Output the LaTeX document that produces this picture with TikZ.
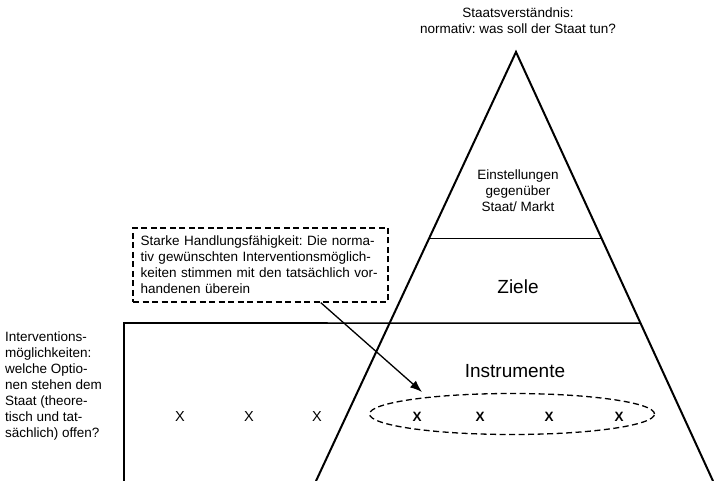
\documentclass[tikz,border=0pt]{standalone}
\usepackage{fontspec}
\setmainfont{Liberation Sans}
\usetikzlibrary{shapes.geometric,arrows.meta,calc}
\newcommand{\klein}{\fontsize{13.5}{16}\selectfont\frenchspacing}
\newcommand{\gross}{\fontsize{19}{22}\selectfont}
\tikzset{
    text style klein/.style={align=center,font=\klein,inner sep=0pt},
    text style gross/.style={font=\gross,inner sep=0pt},
    kreuz style/.style={font=\klein,inner sep=0pt},
    strich style/.style={draw,line width=1.3pt,dash pattern=on 6pt off 3.5pt},
}
\begin{document}
\begin{tikzpicture}[x=1pt,y=-1pt,>={Latex[length=12pt,width=9pt]}]
\useasboundingbox (0,0) rectangle (716,481);
% die Pyramide
\coordinate (spitze) at (516,52);
\coordinate (links)  at (316,481);
\coordinate (rechts) at (713,481);
\draw[line width=2pt] (links) -- (spitze) -- (rechts);
\draw[line width=1.3pt] ($(links)!0.566!(spitze)$) -- ($(rechts)!0.566!(spitze)$);
% Kasten der Interventionsmoeglichkeiten
\draw[line width=1.6pt] (124,481) -- (124,323) -- ($(rechts)!0.368!(spitze)$);

% Beschriftungen
\node[text style klein] (staat) at (518,21)
{Staatsverständnis:\\normativ: was soll der Staat tun?};
\node[text style klein] (einst) at (518,191)
{Einstellungen\\gegenüber\\Staat/ Markt};
\node[text style gross] (ziele) at (518,287) {Ziele};
\node[text style gross] (instrumente) at (515,371) {Instrumente};
\node[text style klein,align=left,anchor=west] (interv) at (5,386)
{Interventions-\\möglichkeiten:\\welche Optio-\\nen stehen dem\\Staat (theore-\\tisch und tat-\\sächlich) offen?};

% der gestrichelte Kasten
\node[strich style,font=\klein,align=left,text width=240pt,%
inner xsep=7.5pt,inner ysep=5pt,minimum height=74pt] (handlung) at (260.5,265)
{Starke Handlungsfähigkeit: Die norma-\\tiv gewünschten Interventionsmöglich-\\keiten stimmen mit den tatsächlich vor-\\handenen überein};

% die Optionen
\foreach \x [count=\i] in {180,249,317}
  \node[kreuz style,font=\fontsize{14.5}{16}\selectfont] (opt-\i) at (\x,417) {X};
\node[strich style,ellipse,minimum width=285pt,minimum height=41pt,inner sep=0pt]
(auswahl) at (512,414) {};
\foreach \x [count=\i] in {417,480,549,619}
  \node[kreuz style,font=\klein\bfseries] (wahl-\i) at (\x,417) {X};

% der Pfeil
\coordinate (pfeilende) at (422,392);
\draw[->,line width=1.3pt] (handlung.-32) -- (pfeilende);
\end{tikzpicture}
\end{document}
